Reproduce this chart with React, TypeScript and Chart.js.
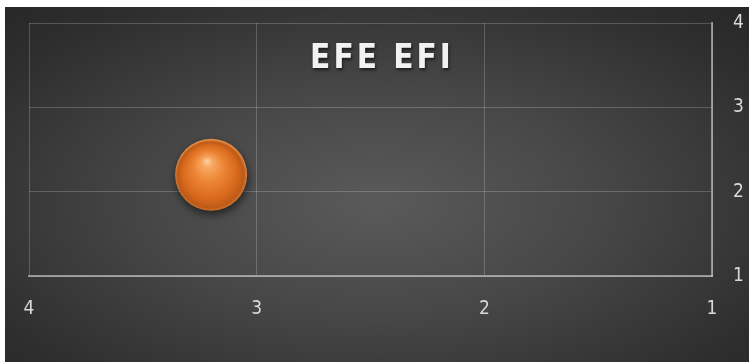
import React, { useEffect, useRef } from "react";
import { Chart, registerables } from "chart.js";

Chart.register(...registerables);

const chartTitle = "EFE EFI";
const xValues = [3.2];
const yValues = [2.2];
const bubbleSizes = [36];
const axisMin = 1;
const axisMax = 4;
const tickStep = 1;

const W = 744;
const H = 355;
const tickFont = '"Liberation Sans Narrow", "DejaVu Sans Condensed", "Liberation Sans", sans-serif';

const bubbleFill = (ctx: any) => {
  const chart = ctx.chart;
  const raw = ctx.raw;
  const xs = chart.scales && chart.scales.x;
  const ys = chart.scales && chart.scales.y;
  if (ctx.type !== "data" || !raw || !xs || !ys) return "#e8782a";
  const cx = xs.getPixelForValue(raw.x);
  const cy = ys.getPixelForValue(raw.y);
  const r = raw.r;
  if (!Number.isFinite(cx) || !Number.isFinite(cy) || !Number.isFinite(r)) return "#e8782a";
  const g = chart.ctx.createRadialGradient(cx - r * 0.12, cy - r * 0.4, 0, cx, cy + r * 0.05, r * 1.02);
  g.addColorStop(0, "#fdd3a6");
  g.addColorStop(0.14, "#f8a862");
  g.addColorStop(0.42, "#ec8434");
  g.addColorStop(0.75, "#d7681c");
  g.addColorStop(0.9, "#bd5a17");
  g.addColorStop(1, "#e08a45");
  return g;
};

const shadowPlugin = {
  id: "bubbleShadow",
  beforeDatasetsDraw(chart: any) {
    const c = chart.ctx;
    c.save();
    c.shadowColor = "rgba(0,0,0,0.55)";
    c.shadowBlur = 8;
    c.shadowOffsetX = 1;
    c.shadowOffsetY = 4;
  },
  afterDatasetsDraw(chart: any) {
    chart.ctx.restore();
  },
};

const titlePlugin = {
  id: "overlayTitle",
  afterDraw(chart: any) {
    const c = chart.ctx;
    c.save();
    c.font = 'bold 33px "Liberation Sans Narrow", "DejaVu Sans Condensed", "Liberation Sans", sans-serif';
    (c as any).letterSpacing = "3px";
    c.textAlign = "center";
    c.textBaseline = "alphabetic";
    c.shadowColor = "rgba(0,0,0,0.6)";
    c.shadowBlur = 3;
    c.shadowOffsetX = 1;
    c.shadowOffsetY = 2;
    c.fillStyle = "#f2f2f2";
    c.fillText(chartTitle, 377, 61);
    c.restore();
  },
};

export default function App() {
  const ref = useRef<HTMLCanvasElement>(null);

  useEffect(() => {
    if (!ref.current) return;
    const data = xValues.map((x, i) => ({ x, y: yValues[i], r: bubbleSizes[i] }));
    const chart = new Chart(ref.current, {
      type: "bubble",
      data: {
        datasets: [
          {
            label: chartTitle,
            data,
            backgroundColor: bubbleFill as any,
            borderWidth: 0,
          },
        ],
      },
      options: {
        responsive: false,
        animation: false,
        layout: { autoPadding: false, padding: { left: 24, top: 16, right: 0, bottom: 0 } },
        plugins: {
          legend: { display: false },
          tooltip: { enabled: false },
          title: { display: false },
        },
        scales: {
          x: {
            type: "linear",
            reverse: true,
            min: axisMin,
            max: axisMax,
            ticks: {
              stepSize: tickStep,
              color: "#d9d9d9",
              font: { family: tickFont, size: 19 },
              padding: 22,
            },
            grid: {
              color: "rgba(255,255,255,0.2)",
              lineWidth: 1,
              drawTicks: false,
            },
            border: { color: "rgba(210,210,210,0.6)", width: 2 },
            afterFit(scale: any) {
              scale.height = 86;
              scale.paddingLeft = 0;
              scale.paddingRight = 0;
            },
          },
          y: {
            type: "linear",
            position: "right",
            min: axisMin,
            max: axisMax,
            ticks: {
              stepSize: tickStep,
              color: "#d9d9d9",
              font: { family: tickFont, size: 19 },
              padding: 21,
            },
            grid: {
              color: "rgba(255,255,255,0.2)",
              lineWidth: 1,
              drawTicks: false,
            },
            border: { color: "rgba(210,210,210,0.6)", width: 2 },
            afterFit(scale: any) {
              scale.width = 37;
              scale.paddingTop = 0;
              scale.paddingBottom = 0;
            },
          },
        },
      },
      plugins: [shadowPlugin, titlePlugin],
    });
    return () => chart.destroy();
  }, []);

  return (
    <div
      style={{
        position: "absolute",
        left: 5,
        top: 7,
        width: W,
        height: H,
        background:
          "radial-gradient(ellipse 75% 80% at 50% 55%, #5a5a5a 0%, #474747 40%, #2e2e2e 80%, #262626 100%)",
      }}
    >
      <canvas ref={ref} width={W} height={H} style={{ display: "block" }} />
    </div>
  );
}
